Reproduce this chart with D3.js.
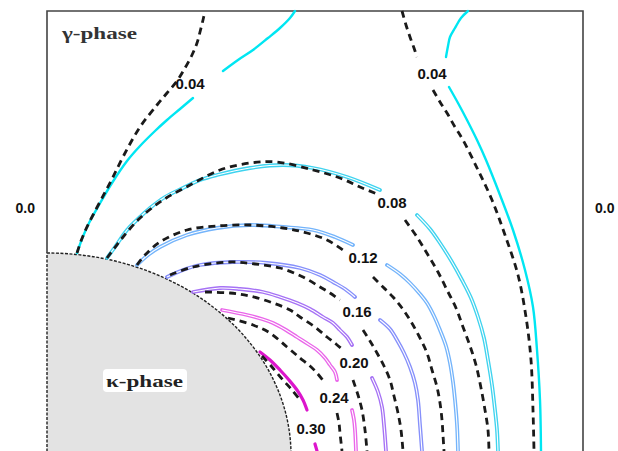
<!DOCTYPE html>
<html>
<head>
<meta charset="utf-8">
<script src="https://cdn.jsdelivr.net/npm/d3@7"></script>
<style>
  body { margin: 0; background: #fff; }
  svg { display: block; }
</style>
</head>
<body>
<script>
// contour levels, solid (computed) + dashed (reference) lines, coordinates in µm
const levels = ["0.04", "0.08", "0.12", "0.16", "0.20", "0.24", "0.30"];

const solid004 = [
  [[0.30,1.98],[0.35,2.12],[0.42,2.28],[0.52,2.46],[0.65,2.68],[0.80,2.90],[0.93,3.05],[1.08,3.20],[1.20,3.31],[1.33,3.42],[1.46,3.53]],
  [[1.76,3.80],[1.91,3.91],[2.06,4.01],[2.21,4.13],[2.33,4.23],[2.43,4.33],[2.48,4.40]],
  [[4.21,4.40],[4.14,4.33],[4.08,4.23],[4.03,4.14],[4.01,4.05],[3.99,3.94]],
  [[4.02,3.64],[4.11,3.48],[4.20,3.31],[4.30,3.11],[4.39,2.91],[4.53,2.56],[4.66,2.21],[4.78,1.81],[4.86,1.44],[4.90,1.01],[4.93,0.51],[4.94,0.00]]
];
const dash004 = [
  [[0.30,1.98],[0.34,2.10],[0.39,2.22],[0.46,2.36],[0.55,2.53],[0.65,2.72],[0.77,2.96],[0.93,3.24],[1.10,3.46],[1.20,3.58],[1.30,3.70],[1.38,3.83],[1.45,3.96],[1.50,4.08],[1.53,4.19],[1.56,4.31],[1.58,4.40]],
  [[3.55,4.40],[3.59,4.26],[3.63,4.14],[3.67,4.03],[3.70,3.94]],
  [[3.86,3.61],[3.93,3.49],[4.00,3.38],[4.08,3.24],[4.16,3.11],[4.31,2.81],[4.45,2.51],[4.58,2.16],[4.71,1.76],[4.79,1.34],[4.84,0.91],[4.86,0.41],[4.87,0.00]]
];

const solid008 = [
  [[0.60,1.93],[0.68,2.04],[0.80,2.21],[0.93,2.34],[1.03,2.43],[1.18,2.54],[1.36,2.63],[1.53,2.71],[1.70,2.76],[2.03,2.83],[2.36,2.86],[2.66,2.83],[3.00,2.74],[3.33,2.61]],
  [[3.70,2.36],[3.83,2.22],[3.93,2.08],[4.05,1.89],[4.15,1.71],[4.24,1.53],[4.31,1.34],[4.37,1.13],[4.41,0.91],[4.45,0.66],[4.48,0.41],[4.50,0.21],[4.51,0.00]]
];
const dash008 = [
  [[0.60,1.93],[0.66,2.01],[0.76,2.14],[0.93,2.33],[1.16,2.51],[1.43,2.66],[1.73,2.81],[2.03,2.88],[2.30,2.89],[2.66,2.81],[2.93,2.73],[3.13,2.64],[3.30,2.57]],
  [[3.58,2.31],[3.70,2.14],[3.81,1.96],[3.91,1.79],[4.00,1.61],[4.09,1.43],[4.16,1.24],[4.23,1.05],[4.29,0.86],[4.34,0.63],[4.38,0.41],[4.41,0.21],[4.42,0.00]]
];

const solid012 = [
  [[0.90,1.86],[1.01,1.96],[1.13,2.04],[1.40,2.16],[1.70,2.23],[2.03,2.26],[2.36,2.24],[2.66,2.21],[2.88,2.14],[3.06,2.06]],
  [[3.40,1.86],[3.53,1.77],[3.63,1.68],[3.73,1.57],[3.80,1.48],[3.87,1.35],[3.93,1.21],[3.99,1.05],[4.03,0.88],[4.06,0.69],[4.08,0.51],[4.10,0.26],[4.11,0.00]]
];
const dash012 = [
  [[0.90,1.86],[0.98,1.96],[1.13,2.09],[1.40,2.21],[1.70,2.25],[2.03,2.26],[2.36,2.23],[2.60,2.18],[2.80,2.11],[2.96,2.01]],
  [[3.26,1.74],[3.36,1.64],[3.46,1.54],[3.55,1.43],[3.63,1.31],[3.72,1.15],[3.80,0.98],[3.85,0.81],[3.90,0.64],[3.93,0.48],[3.95,0.31],[3.96,0.16],[3.97,0.00]]
];

const solid016 = [
  [[1.20,1.74],[1.36,1.81],[1.53,1.86],[1.86,1.89],[2.20,1.88],[2.53,1.83],[2.73,1.76],[2.86,1.69],[2.98,1.62],[3.08,1.54]],
  [[3.33,1.31],[3.43,1.22],[3.50,1.11],[3.57,0.98],[3.63,0.84],[3.68,0.68],[3.71,0.51],[3.73,0.26],[3.75,0.00]]
];
const dash016 = [
  [[1.23,1.76],[1.46,1.84],[1.83,1.89],[2.08,1.87],[2.33,1.83],[2.56,1.74],[2.73,1.64],[2.83,1.58],[2.93,1.51]],
  [[3.16,1.21],[3.23,1.10],[3.30,0.98],[3.37,0.85],[3.43,0.71],[3.47,0.55],[3.51,0.38],[3.54,0.21],[3.56,0.00]]
];

const solid020 = [
  [[1.46,1.59],[1.73,1.63],[1.93,1.62],[2.16,1.59],[2.33,1.54],[2.50,1.48],[2.63,1.42],[2.76,1.34],[2.86,1.28],[2.93,1.21],[3.00,1.14],[3.05,1.06]],
  [[3.25,0.73],[3.31,0.59],[3.35,0.44],[3.37,0.26],[3.39,0.00]]
];
const dash020 = [
  [[1.58,1.59],[1.83,1.58],[2.03,1.55],[2.26,1.48],[2.43,1.41],[2.53,1.34],[2.68,1.24],[2.80,1.14],[2.89,1.07],[2.96,1.01]],
  [[3.06,0.71],[3.11,0.56],[3.15,0.41],[3.18,0.21],[3.20,0.00]]
];

const solid024 = [
  [[1.75,1.41],[2.00,1.36],[2.15,1.32],[2.26,1.28],[2.39,1.21],[2.50,1.14],[2.61,1.07],[2.70,1.01],[2.78,0.93],[2.83,0.86],[2.88,0.79],[2.90,0.71]],
  [[3.05,0.41],[3.07,0.31],[3.08,0.21],[3.09,0.00]]
];
const dash024 = [
  [[1.81,1.33],[2.06,1.26],[2.23,1.18],[2.40,1.04],[2.53,0.93],[2.63,0.85],[2.70,0.78],[2.78,0.68]],
  [[2.90,0.38],[2.92,0.28],[2.93,0.18],[2.95,0.00]]
];

const solid030 = [
  [[2.13,0.99],[2.23,0.91],[2.33,0.81],[2.42,0.71],[2.50,0.61],[2.56,0.51],[2.60,0.41]],
  [[2.68,0.07],[2.70,0.00]]
];
const dash030 = [
  [[2.15,0.95],[2.25,0.84],[2.36,0.71],[2.45,0.61],[2.53,0.51]]
];

// label positions [level, x, y]
const labelPts = [
  ["0.04", 1.43, 3.67], ["0.04", 3.85, 3.77], ["0.08", 3.45, 2.48], ["0.12", 3.16, 1.93],
  ["0.16", 3.10, 1.39], ["0.20", 3.07, 0.88], ["0.24", 2.87, 0.53], ["0.30", 2.64, 0.22]
];
const sideTicks = ["0.0"];
const sideTickY = [2.43];

// kappa particle: quarter ellipse [cx, cy, rx, ry]
const kappa = [0, -0.04, 2.44, 2.02];

const solids = [solid004, solid008, solid012, solid016, solid020, solid024, solid030];
const dashes = [dash004, dash008, dash012, dash016, dash020, dash024, dash030];
const colors = ["#00e6f2", "#3fd3ef", "#74b4fb", "#8690fb", "#a672f5", "#ea66ea", "#dc16cc"];
const doubleLine = [false, true, true, true, true, true, false];

const contours = levels.map((lv, i) => ({level: lv, solid: solids[i], dash: dashes[i], color: colors[i], dbl: doubleLine[i]}));

const width = 618, height = 451;
const svg = d3.select("body").append("svg")
  .attr("width", width).attr("height", height);

const x = d3.scaleLinear().domain([0, 5.36]).range([47, 583]);
const y = d3.scaleLinear().domain([0, 4.40]).range([451, 11]);

const line = d3.line().x(d => x(d[0])).y(d => y(d[1])).curve(d3.curveCatmullRom.alpha(0.5));

// kappa phase
const cx = x(kappa[0]), cy = y(kappa[1]);
const rx = x(kappa[2]) - x(0), ry = y(0) - y(kappa[3]);
svg.append("path")
  .attr("d", `M${cx},${cy - ry} A${rx},${ry} 0 0 1 ${cx + rx},${cy} L${cx},${cy} Z`)
  .attr("fill", "#e3e3e3")
  .attr("stroke", "#222")
  .attr("stroke-width", 1.4)
  .attr("stroke-dasharray", "3,1.5");

// frame
svg.append("path")
  .attr("d", `M${x(0)},${cy - ry} L${x(0)},${y(4.40)} L${x(5.36)},${y(4.40)} L${x(5.36)},${height}`)
  .attr("fill", "none")
  .attr("stroke", "#444")
  .attr("stroke-width", 1.6);

// solid contour lines
contours.forEach(c => {
  const g = svg.append("g");
  g.selectAll("path.outer")
    .data(c.solid)
    .join("path")
    .attr("class", "outer")
    .attr("d", line)
    .attr("fill", "none")
    .attr("stroke", c.color)
    .attr("stroke-width", c.dbl ? 3.8 : (c.level === "0.30" ? 3.2 : 2.4))
    .attr("stroke-linecap", "round");
  if (c.dbl) {
    g.selectAll("path.inner")
      .data(c.solid)
      .join("path")
      .attr("class", "inner")
      .attr("d", line)
      .attr("fill", "none")
      .attr("stroke", "#fff")
      .attr("stroke-width", 1.1);
  }
});

// dashed contour lines
contours.forEach(c => {
  svg.append("g").selectAll("path")
    .data(c.dash)
    .join("path")
    .attr("d", line)
    .attr("fill", "none")
    .attr("stroke", "#1a1a1a")
    .attr("stroke-width", 2.8)
    .attr("stroke-dasharray", "7,5");
});

// contour labels
svg.append("g").selectAll("text")
  .data(labelPts)
  .join("text")
  .attr("x", d => x(d[1]))
  .attr("y", d => y(d[2]))
  .attr("dy", "0.36em")
  .attr("text-anchor", "middle")
  .attr("font-family", "Liberation Sans, Arial, sans-serif")
  .attr("font-weight", "bold")
  .attr("font-size", "15px")
  .attr("fill", "#111")
  .text(d => d[0]);

// side labels
sideTickY.forEach((v, i) => {
  svg.append("text")
    .attr("x", x(0) - 12).attr("y", y(v)).attr("dy", "0.36em")
    .attr("text-anchor", "end")
    .attr("font-family", "Liberation Sans, Arial, sans-serif")
    .attr("font-weight", "bold").attr("font-size", "14px").attr("fill", "#111")
    .text(sideTicks[i]);
  svg.append("text")
    .attr("x", x(5.36) + 12).attr("y", y(v)).attr("dy", "0.36em")
    .attr("text-anchor", "start")
    .attr("font-family", "Liberation Sans, Arial, sans-serif")
    .attr("font-weight", "bold").attr("font-size", "14px").attr("fill", "#111")
    .text(sideTicks[i]);
});

// phase names
svg.append("text")
  .attr("x", 62).attr("y", 39)
  .attr("font-family", "Liberation Serif, Times New Roman, serif")
  .attr("font-weight", "bold").attr("font-size", "17px").attr("fill", "#333")
  .attr("textLength", 75).attr("lengthAdjust", "spacingAndGlyphs")
  .text("γ-phase");

svg.append("rect")
  .attr("x", 103).attr("y", 369).attr("width", 84).attr("height", 23)
  .attr("rx", 4).attr("fill", "#fff");
svg.append("text")
  .attr("x", 106).attr("y", 387)
  .attr("font-family", "Liberation Serif, Times New Roman, serif")
  .attr("font-weight", "bold").attr("font-size", "17px").attr("fill", "#222")
  .attr("textLength", 77).attr("lengthAdjust", "spacingAndGlyphs")
  .text("κ-phase");
</script>
</body>
</html>
